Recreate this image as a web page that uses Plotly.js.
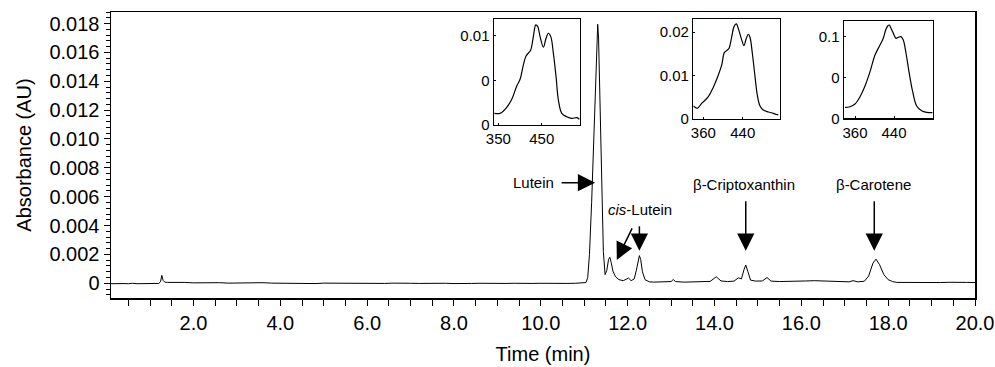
<!DOCTYPE html>
<html>
<head>
<meta charset="utf-8">
<script src="https://cdn.plot.ly/plotly-3.0.1.min.js"></script>
<style>html,body{margin:0;padding:0;background:#fff;}#chart{width:995px;height:367px;}</style>
</head>
<body>
<div id="chart"></div>
<script>
// ---- main chromatogram ----
const timeMin = [
  0.1,0.2,0.3,0.4,0.5,0.6,0.7,0.8,0.9,1.0,1.1,1.2,
  1.24,1.27,1.3,1.34,1.4,1.5,1.65,1.8,
  2.0,2.2,2.4,2.6,2.8,3.0,3.2,3.4,3.6,3.8,
  4.0,4.2,4.4,4.6,4.8,5.0,5.2,5.4,5.6,5.8,
  6.0,6.2,6.4,6.6,6.8,7.0,7.2,7.4,7.6,7.8,
  8.0,8.2,8.4,8.6,8.8,9.0,9.2,9.4,9.6,9.8,
  10.0,10.2,10.4,10.6,10.8,10.95,
  11.04,11.08,11.12,11.17,11.22,11.26,11.29,11.31,11.33,11.36,11.40,11.44,11.48,
  11.52,11.56,11.59,11.62,11.66,11.72,11.8,11.9,11.97,12.02,12.08,12.15,
  12.2,12.24,12.27,12.3,12.34,12.4,12.5,12.6,12.8,13.0,13.05,13.1,13.3,13.5,13.7,13.9,
  14.04,14.15,14.3,14.45,14.55,14.62,14.68,14.72,14.77,14.83,14.95,15.1,15.21,15.3,
  15.5,15.7,15.9,16.1,16.3,16.5,16.7,16.9,17.1,17.19,17.3,17.45,17.55,17.65,17.72,
  17.8,17.9,18.0,18.1,18.2,18.4,18.6,18.8,19.0,19.2,19.4,19.6,19.8,20.0
];
const absorbanceAU = [
  -0.00003,-0.00001,-0.00004,-0.00002,-0.00003,0.00000,-0.00003,-0.00002,-0.00004,-0.00001,-0.00002,-0.00001,
  0.00010,0.00055,0.00020,0.00008,0.00006,0.00007,0.00005,0.00006,
  0.00003,0.00005,0.00002,0.00004,0.00001,0.00003,0.00000,0.00002,0.00004,0.00001,
  0.00000,0.00002,-0.00001,0.00002,-0.00002,0.00001,0.00000,0.00002,-0.00001,0.00001,
  -0.00002,0.00000,-0.00001,0.00001,-0.00002,0.00000,-0.00001,0.00001,-0.00001,0.00000,
  -0.00002,0.00001,-0.00001,0.00000,-0.00002,0.00001,-0.00001,0.00000,0.00002,-0.00001,
  0.00000,-0.00002,0.00001,-0.00001,0.00000,0.00001,
  0.00005,0.00040,0.00200,0.00560,0.01000,0.01480,0.01740,0.01795,0.01700,0.01250,0.00620,0.00220,0.00060,
  0.00090,0.00165,0.00180,0.00145,0.00085,0.00045,0.00025,0.00018,0.00030,0.00036,0.00018,0.00030,
  0.00090,0.00160,0.00192,0.00165,0.00080,0.00025,0.00010,0.00008,0.00010,0.00012,0.00026,0.00012,0.00008,0.00010,0.00009,0.00013,
  0.00045,0.00016,0.00012,0.00015,0.00038,0.00030,0.00095,0.00127,0.00080,0.00022,0.00015,0.00016,0.00040,0.00015,
  0.00012,0.00015,0.00017,0.00016,0.00018,0.00016,0.00015,0.00013,0.00010,0.00018,0.00010,0.00014,0.00050,0.00140,0.00167,
  0.00130,0.00060,0.00025,0.00012,0.00006,0.00005,0.00007,0.00004,0.00006,0.00005,0.00007,0.00004,0.00006,0.00005
];
const yTickVals = [0,0.002,0.004,0.006,0.008,0.010,0.012,0.014,0.016,0.018];
const yTickText = ["0","0.002","0.004","0.006","0.008","0.010","0.012","0.014","0.016","0.018"];
const xTickVals = [2,4,6,8,10,12,14,16,18,20];

// ---- inset spectra (wavelength nm, absorbance) ----
const spec1Wl = [340.8,353.9,369.4,380.9,392.4,400,407.6,413.8,420,424.6,430.6,436.2,440.8,446.1,453.7,459.9,465.2,470.7,476.7,482.9,488.2,496.1,507.6,519.1,530.6,536.6];
const spec1Abs = [0.00131,0.00131,0.00199,0.00289,0.00438,0.00513,0.00674,0.00775,0.00812,0.00843,0.00992,0.01124,0.01104,0.00992,0.00873,0.00974,0.0103,0.00992,0.00806,0.00543,0.00281,0.00131,0.00093,0.00075,0.00082,0.00064];
const spec1TickVals = [350,450];
const spec1YVals = [0,0.005,0.01];
const spec1YText = ["0","0","0.01"];

const spec2Wl = [339.7,347.8,356.8,370.2,380.3,390.5,397.4,402.6,407.5,412.2,417.7,422.3,427,431.9,437.9,442.6,446.7,451.4,454.8,459.5,465,469.6,475.1,481.8,491.9,502.1,512.3];
const spec2Abs = [0.00286,0.00233,0.00349,0.00502,0.00721,0.01007,0.0124,0.01526,0.01572,0.01628,0.01898,0.0213,0.02193,0.02053,0.01821,0.01688,0.01837,0.01953,0.01884,0.01512,0.00967,0.00542,0.00286,0.00193,0.00147,0.00116,0.00077];
const spec2TickVals = [360,440];
const spec2YVals = [0,0.01,0.02];
const spec2YText = ["0","0.01","0.02"];

const spec3Wl = [339.5,349.8,360,370.3,380.5,390.8,401,411.3,418,422.9,427,430.3,433.8,438.5,444.1,448.8,454.3,459,464.6,471.3,478.3,486.5,496.7,507,519.3];
const spec3Abs = [0.01348,0.01422,0.01752,0.02647,0.03958,0.05711,0.07757,0.08983,0.09804,0.1082,0.1131,0.1143,0.1103,0.1042,0.098,0.0993,0.1,0.096,0.0797,0.0551,0.0326,0.01507,0.00931,0.00735,0.00686];
const spec3TickVals = [360,440];
const spec3YVals = [0,0.05,0.1];
const spec3YText = ["0","0","0.1"];

const FONT = "Liberation Sans, Arial, Helvetica, sans-serif";

const traces = [
  {x: timeMin, y: absorbanceAU, type: 'scatter', mode: 'lines', line: {color: '#000', width: 1}, xaxis: 'x', yaxis: 'y', hoverinfo: 'skip'},
  {x: spec1Wl, y: spec1Abs, type: 'scatter', mode: 'lines', line: {color: '#000', width: 1.2, shape: 'spline'}, xaxis: 'x2', yaxis: 'y2'},
  {x: spec2Wl, y: spec2Abs, type: 'scatter', mode: 'lines', line: {color: '#000', width: 1.2, shape: 'spline'}, xaxis: 'x3', yaxis: 'y3'},
  {x: spec3Wl, y: spec3Abs, type: 'scatter', mode: 'lines', line: {color: '#000', width: 1.2, shape: 'spline'}, xaxis: 'x4', yaxis: 'y4'}
];

function insetX(dom, range, tv, anchor) {
  return {domain: dom, range: range, anchor: anchor, tickvals: tv, ticks: 'inside', ticklen: 2, tickcolor: '#000',
    showline: true, mirror: true, linecolor: '#000', linewidth: 1.5, showgrid: false, zeroline: false,
    tickfont: {size: 15, color: '#000'}, fixedrange: true};
}
function insetY(dom, range, tv, tt, anchor) {
  return {domain: dom, range: range, anchor: anchor, tickvals: tv, ticktext: tt, ticks: 'inside', ticklen: 2, tickcolor: '#000',
    showline: true, mirror: true, linecolor: '#000', linewidth: 1.5, showgrid: false, zeroline: false,
    tickfont: {size: 15, color: '#000'}, fixedrange: true};
}

const arrowCommon = {xref: 'x', yref: 'y', text: '', showarrow: true, arrowhead: 2, arrowsize: 2.3, arrowwidth: 1.5, arrowcolor: '#000', standoff: 0};
const labelCommon = {xref: 'x', yref: 'y', showarrow: false, font: {size: 15, color: '#000', family: FONT}};

const layout = {
  width: 995, height: 367,
  margin: {l: 111, r: 20, t: 12, b: 69},
  paper_bgcolor: '#fff', plot_bgcolor: '#fff',
  showlegend: false,
  font: {family: FONT, color: '#000', size: 20},
  xaxis: {
    range: [0.1, 20], tickvals: xTickVals, tickformat: '.1f',
    ticks: 'outside', ticklen: 6, tickwidth: 1, tickcolor: '#000',
    minor: {dtick: 0.5, tick0: 0, ticks: 'outside', ticklen: 6, tickcolor: '#000', tickwidth: 1},
    showline: true, mirror: true, linecolor: '#000', linewidth: 1.5,
    showgrid: false, zeroline: false,
    title: {text: 'Time (min)', font: {size: 20}, standoff: 14},
    tickfont: {size: 20}, automargin: false
  },
  yaxis: {
    range: [-0.00102, 0.0188], tickvals: yTickVals, ticktext: yTickText,
    ticks: 'outside', ticklen: 6, tickwidth: 1, tickcolor: '#000',
    minor: {dtick: 0.0004, tick0: 0, ticks: 'outside', ticklen: 4, tickcolor: '#000', tickwidth: 1},
    showline: true, mirror: true, linecolor: '#000', linewidth: 1.5,
    showgrid: false, zeroline: false,
    title: {text: 'Absorbance (AU)', font: {size: 20}, standoff: 12},
    tickfont: {size: 20}, automargin: false
  },
  xaxis2: insetX([0.4433, 0.5428], [340, 538], spec1TickVals, 'y2'),
  yaxis2: insetY([0.6049, 0.9755], [0, 0.0119], spec1YVals, spec1YText, 'x2'),
  xaxis3: insetX([0.6740, 0.7743], [339.7, 515.7], spec2TickVals, 'y3'),
  yaxis3: insetY([0.6259, 0.9745], [-0.00016, 0.023], spec2YVals, spec2YText, 'x3'),
  xaxis4: insetX([0.8484, 0.9510], [337.4, 519.3], spec3TickVals, 'y4'),
  yaxis4: insetY([0.6283, 0.9685], [0, 0.1192], spec3YVals, spec3YText, 'x4'),
  annotations: [
    Object.assign({}, arrowCommon, {x: 11.25, y: 0.00697, ax: -35, ay: 0}),
    Object.assign({}, labelCommon, {x: 9.82, y: 0.00697, text: 'Lutein'}),
    Object.assign({}, arrowCommon, {x: 11.75, y: 0.00162, ax: 16, ay: -33}),
    Object.assign({}, arrowCommon, {x: 12.27, y: 0.00226, ax: 0, ay: -26}),
    Object.assign({}, labelCommon, {x: 12.29, y: 0.00509, text: '<i>cis</i>-Lutein'}),
    Object.assign({}, arrowCommon, {x: 14.72, y: 0.00226, ax: 0, ay: -51}),
    Object.assign({}, labelCommon, {x: 14.69, y: 0.00683, text: 'β-Criptoxanthin'}),
    Object.assign({}, arrowCommon, {x: 17.68, y: 0.00226, ax: 0, ay: -51}),
    Object.assign({}, labelCommon, {x: 17.67, y: 0.00683, text: 'β-Carotene'})
  ]
};

Plotly.newPlot('chart', traces, layout, {staticPlot: true, displayModeBar: false});
</script>
</body>
</html>
